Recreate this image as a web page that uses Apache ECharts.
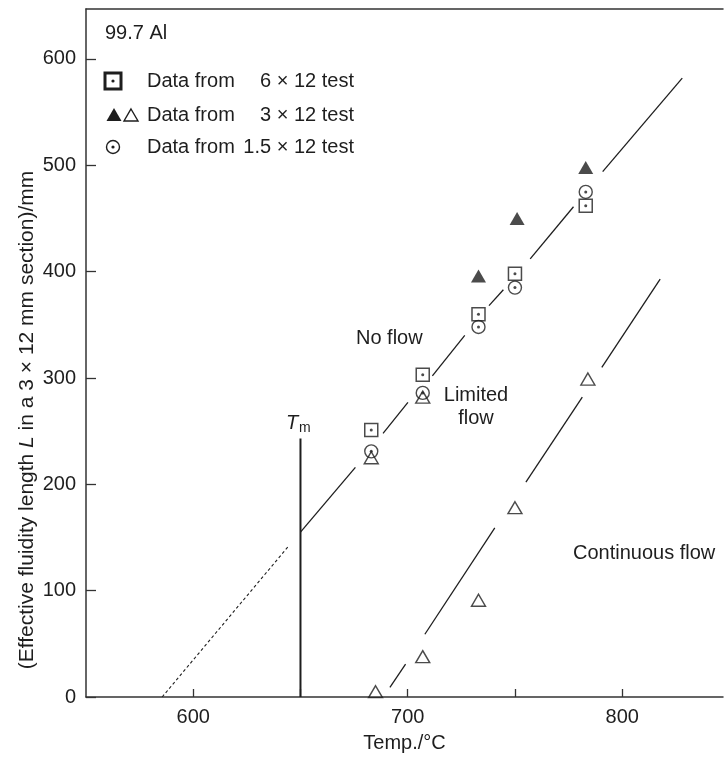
<!DOCTYPE html>
<html><head><meta charset="utf-8">
<script src="https://cdn.jsdelivr.net/npm/echarts@6/dist/echarts.min.js"></script>
<style>html,body{margin:0;padding:0;background:#fff}#c{width:724px;height:758px}</style>
</head><body><div id="c"></div>
<script>
const FONT = '"Liberation Sans", Arial, Helvetica, sans-serif';
const INK = '#1e1e1e';

// ---- data (Temp °C, fluidity length mm) ----
const temp6x12 = [683, 707, 733, 750, 783];
const len6x12  = [251, 303, 360, 398, 462];

const temp3x12Filled = [733, 751, 783];
const len3x12Filled  = [396, 450, 498];

const temp3x12Open = [683, 707, 685, 707, 733, 750, 784];
const len3x12Open  = [225, 282, 5, 38, 91, 178, 299];

const temp1p5x12 = [683, 707, 733, 750, 783];
const len1p5x12  = [231, 286, 348, 385, 475];

const meltTemp = 650;
const meltLineTop = 243;

// boundary lines, drawn as broken segments (Temp, Length)
const noFlowDashed = [[585.5, 0], [644.5, 142]];
const noFlowSegments = [
  [[650, 155], [675.6, 216]],
  [[688.5, 248], [700.1, 277]],
  [[711.5, 302], [726.6, 340]],
  [[737.9, 368], [744.6, 383]],
  [[757.1, 412], [777.3, 461]],
  [[790.9, 494], [828, 582]]
];
const contFlowSegments = [
  [[691.7, 9], [699, 31]],
  [[708, 59], [740.6, 159]],
  [[755.1, 202], [781.4, 282]],
  [[790.5, 310], [817.7, 393]]
];

const xLabelValues = [600, 700, 800];

const zip = (a, b) => a.map((v, i) => [v, b[i]]);

const chart = echarts.init(document.getElementById('c'), null, {renderer: 'canvas'});

const segSeries = (pts, dashed) => ({
  type: 'line', data: pts, symbol: 'none', silent: true, animation: false,
  lineStyle: {color: INK, width: dashed ? 1.1 : 1.3, type: dashed ? [3, 2.5] : 'solid'},
  z: 2
});

const series = [];
series.push(segSeries(noFlowDashed, true));
noFlowSegments.forEach(s => series.push(segSeries(s, false)));
contFlowSegments.forEach(s => series.push(segSeries(s, false)));
series.push({
  type: 'line', data: [[meltTemp, 0], [meltTemp, meltLineTop]], symbol: 'none', animation: false,
  lineStyle: {color: INK, width: 2}, z: 2
});

const openStyle = {color: 'rgba(255,255,255,0)', borderColor: INK, borderWidth: 1.4};
series.push({type: 'scatter', data: zip(temp3x12Open, len3x12Open), symbol: 'triangle', symbolSize: [14, 12], itemStyle: openStyle, animation: false, z: 3});
series.push({type: 'scatter', data: zip(temp3x12Filled, len3x12Filled), symbol: 'triangle', symbolSize: [15, 13], itemStyle: {color: INK}, animation: false, z: 3});
series.push({type: 'scatter', data: zip(temp6x12, len6x12), symbol: 'rect', symbolSize: 13, itemStyle: {color: '#fff', borderColor: INK, borderWidth: 1.5}, animation: false, z: 3});
series.push({type: 'scatter', data: zip(temp6x12, len6x12), symbol: 'circle', symbolSize: 3, itemStyle: {color: INK}, animation: false, z: 4});
series.push({type: 'scatter', data: zip(temp1p5x12, len1p5x12), symbol: 'circle', symbolSize: 13, itemStyle: openStyle, animation: false, z: 3});
series.push({type: 'scatter', data: zip(temp1p5x12, len1p5x12), symbol: 'circle', symbolSize: 3, itemStyle: {color: INK}, animation: false, z: 4});

const FS = 20;
const txt = (x, y, s, extra) => Object.assign({
  type: 'text', x: x, y: y, silent: true,
  style: Object.assign({text: s, fill: INK, font: FS + 'px ' + FONT, textVerticalAlign: 'middle'}, extra || {})
});
const LEG_R = 354;

const graphic = [
  txt(105, 33, '99.7 Al'),
  // legend row 1
  {type: 'rect', shape: {x: 105, y: 73, width: 16, height: 16}, style: {fill: '#fff', stroke: INK, lineWidth: 3}},
  {type: 'circle', shape: {cx: 113, cy: 81, r: 1.6}, style: {fill: INK}},
  txt(147, 81, 'Data from'),
  txt(LEG_R, 81, '6 × 12 test', {textAlign: 'right'}),
  // legend row 2
  {type: 'polygon', shape: {points: [[114, 108], [121.5, 121], [106.5, 121]]}, style: {fill: INK}},
  {type: 'polygon', shape: {points: [[131, 109], [138, 121], [124, 121]]}, style: {fill: 'none', stroke: INK, lineWidth: 1.4}},
  txt(147, 115, 'Data from'),
  txt(LEG_R, 115, '3 × 12 test', {textAlign: 'right'}),
  // legend row 3
  {type: 'circle', shape: {cx: 113, cy: 147, r: 6.5}, style: {fill: 'none', stroke: INK, lineWidth: 1.4}},
  {type: 'circle', shape: {cx: 113, cy: 147, r: 1.6}, style: {fill: INK}},
  txt(147, 147, 'Data from'),
  txt(LEG_R, 147, '1.5 × 12 test', {textAlign: 'right'}),
  // annotations
  txt(356, 338, 'No flow'),
  txt(476, 395, 'Limited', {textAlign: 'center'}),
  txt(476, 418, 'flow', {textAlign: 'center'}),
  txt(573, 553, 'Continuous flow'),
  txt(286, 423, 'T', {font: 'italic ' + FS + 'px ' + FONT}),
  txt(299, 428, 'm', {font: '14px ' + FONT}),
  // y axis title
  {
    type: 'text', x: 27, y: 420, rotation: Math.PI / 2, silent: true,
    style: {
      text: '(Effective fluidity length {i|L} in a 3 × 12 mm section)/mm',
      fill: INK, font: '21px ' + FONT, textAlign: 'center', textVerticalAlign: 'middle',
      rich: {i: {fill: INK, font: 'italic 21px ' + FONT}}
    }
  }
];

chart.setOption({
  animation: false,
  backgroundColor: '#fff',
  grid: {left: 86, top: 9, right: 1, bottom: 55},
  xAxis: [{
    type: 'value', min: 550, max: 847, interval: 50,
    name: 'Temp./°C', nameLocation: 'middle', nameGap: 36,
    nameTextStyle: {fontFamily: FONT, fontSize: FS, color: INK},
    axisLine: {show: true, lineStyle: {color: '#333', width: 1.5}},
    axisTick: {show: true, inside: true, length: 8, lineStyle: {color: '#333', width: 1.3}},
    axisLabel: {
      fontFamily: FONT, fontSize: FS, color: INK, margin: 10,
      showMinLabel: false, showMaxLabel: false,
      formatter: v => (xLabelValues.indexOf(v) >= 0 ? String(v) : '')
    },
    splitLine: {show: false}
  }, {
    type: 'value', position: 'top', min: 550, max: 847,
    axisLine: {show: true, lineStyle: {color: '#333', width: 1.5}},
    axisTick: {show: false}, axisLabel: {show: false}, splitLine: {show: false}
  }],
  yAxis: {
    type: 'value', min: 0, max: 647, interval: 100,
    axisLine: {show: true, lineStyle: {color: '#333', width: 1.5}},
    axisTick: {show: true, inside: true, length: 10, lineStyle: {color: '#333', width: 1.3}},
    axisLabel: {fontFamily: FONT, fontSize: FS, color: INK, margin: 10, showMaxLabel: false},
    splitLine: {show: false}
  },
  graphic: graphic,
  series: series
});
</script>
</body></html>
